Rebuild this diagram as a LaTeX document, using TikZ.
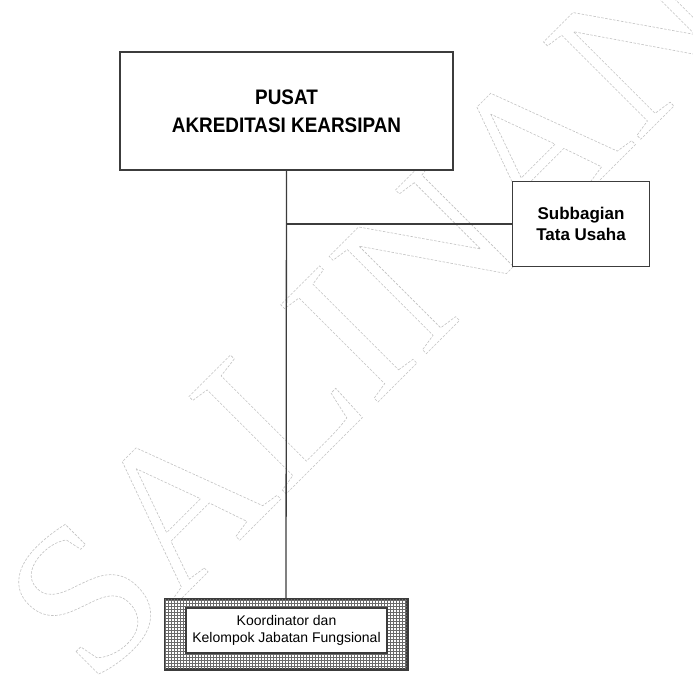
\documentclass[tikz,border=0pt]{standalone}
\usepackage{fontspec}
\newfontfamily\arialfam{Liberation Sans}
\newfontfamily\arialnarrow[FakeStretch=0.9]{Liberation Sans}
\newfontfamily\wmfont{Liberation Serif}
\definecolor{boxline}{HTML}{3C3C3C}
\definecolor{wmgray}{HTML}{C2C2C2}
\definecolor{gridgray}{HTML}{6A6A6A}
\begin{document}
\begin{tikzpicture}[x=1bp,y=-1bp,
  box/.style={draw=boxline, line width=1.5bp, fill=white, inner sep=0pt, align=center, text=black},
  conn/.style={draw=boxline, line width=1.3bp},
  headtext/.style={font=\arialnarrow\bfseries\fontsize{21bp}{28bp}\selectfont},
  subtext/.style={font=\arialfam\bfseries\fontsize{17bp}{21bp}\selectfont},
  smalltext/.style={font=\arialfam\fontsize{14bp}{17bp}\selectfont},
  wmark/.style={text=wmgray, anchor=base west, rotate=45, inner sep=0pt,
    font=\wmfont\fontsize{210bp}{210bp}\selectfont}]
\useasboundingbox (0,0) rectangle (693,682);
\fill[white] (0,0) rectangle (693,682);
% watermark
\begin{scope}
\clip (0,0) rectangle (693,682);
\node[wmark] (wm) at (92,688) {\special{pdf:literal direct 1 Tr 0.6 w [2.5 1.5] 0 d}SALINAN\special{pdf:literal direct 0 Tr}};
\end{scope}
% boxes
\node[box, headtext, minimum width=333bp, minimum height=118bp] (pusat) at (286.5,111) {PUSAT\\AKREDITASI KEARSIPAN};
\node[box, subtext, minimum width=137bp, minimum height=85bp] (sub) at (581,224) {Subbagian\\Tata Usaha};
\node[draw=boxline, line width=1.5bp, inner sep=0pt, minimum width=242bp, minimum height=70bp] (koord) at (286,634) {};
\begin{scope}
\clip (165,599) rectangle (407,669);
\draw[gridgray, line width=0.9bp, step=3bp] (160,595) grid (410,672);
\end{scope}
\draw[boxline, line width=1.5bp] (koord.north west) rectangle (koord.south east);
\node[box, smalltext, line width=1.4bp, minimum width=201bp, minimum height=45bp] (inner) at (286.5,630.5) {Koordinator dan\\Kelompok Jabatan Fungsional};
% connectors
\coordinate (junc) at (pusat.south |- sub.west);
\draw[conn] (pusat.south) -- (koord.north);
\draw[conn] (junc) -- (sub.west);
\end{tikzpicture}
\end{document}
